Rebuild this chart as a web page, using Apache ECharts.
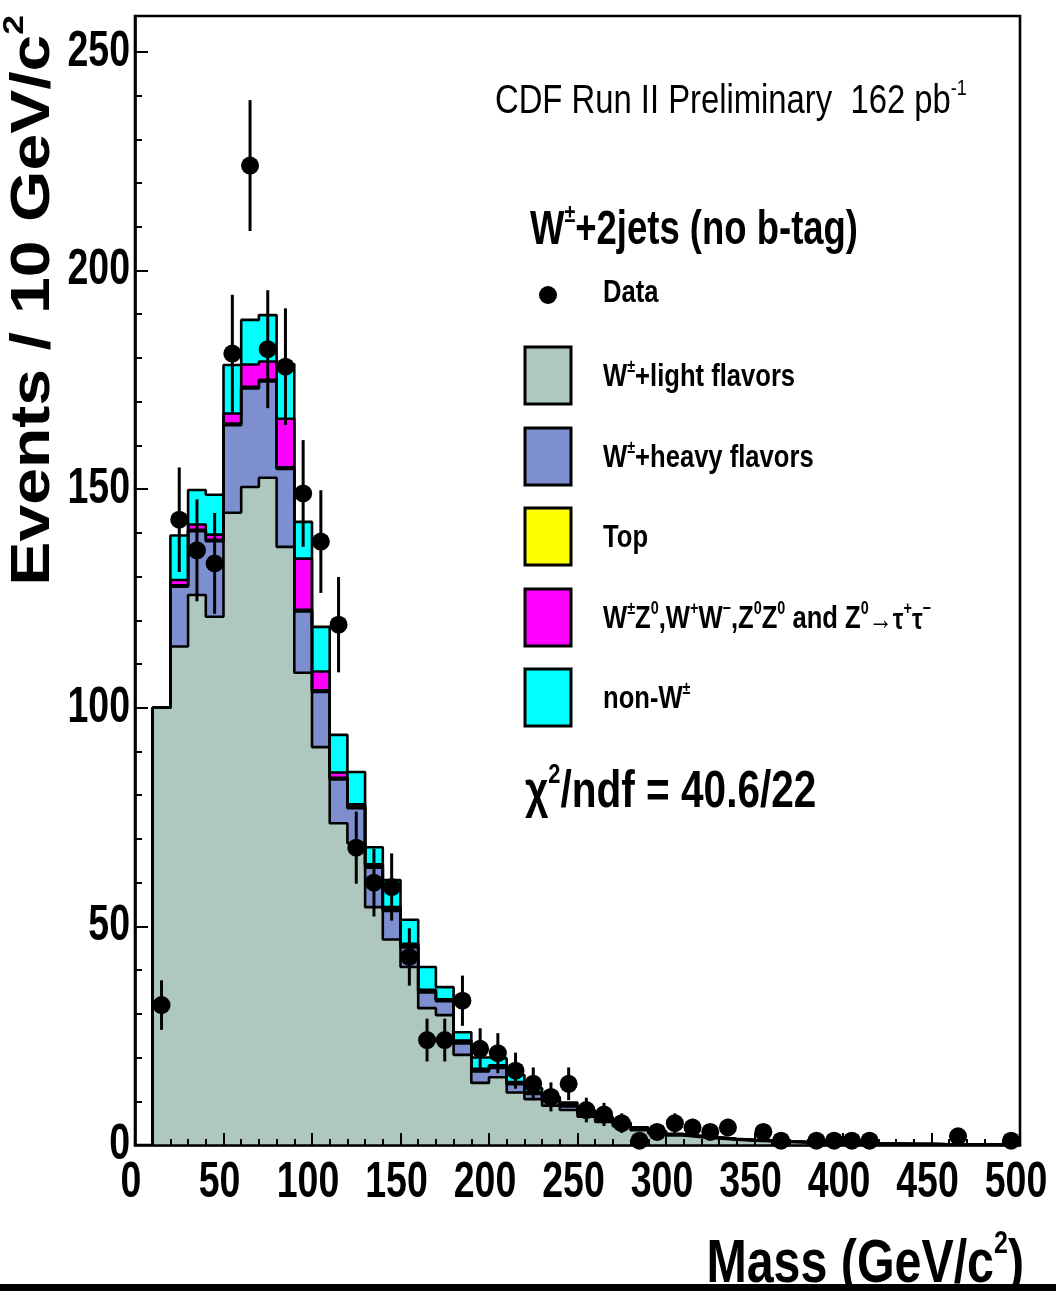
<!DOCTYPE html>
<html>
<head>
<meta charset="utf-8">
<script src="https://cdn.jsdelivr.net/npm/echarts@6/dist/echarts.min.js"></script>
<style>
  html, body { margin: 0; padding: 0; background: #ffffff; }
  #chart { width: 1056px; height: 1291px; }
</style>
</head>
<body>
<div id="chart"></div>
<script>
// Dijet mass, W + 2 jets (no b-tag): 10 GeV/c^2 bins, lower edges
const binLow = [10, 20, 30, 40, 50, 60, 70, 80, 90, 100,
  110, 120, 130, 140, 150, 160, 170, 180, 190, 200,
  210, 220, 230, 240, 250, 260, 270, 280, 290, 300,
  310, 320, 330, 340, 350, 360, 370, 380, 390, 400,
  410, 420, 430, 440, 450, 460, 470, 480, 490];
const binWidth = 10;

// Expected events per bin for each background process
const wLight = [100, 114, 125.8, 120.8, 144.6, 150.5, 152.6, 136.8, 108, 91,
  73.6, 69, 54.4, 47, 40.7, 31.3, 29.7, 20.6, 14.2, 15.5,
  12, 10.5, 9, 8, 6.5, 5.3, 4.3, 3.4, 2.7, 2.2,
  1.8, 1.5, 1.2, 1.0, 0.85, 0.7, 0.6, 0.5, 0.42, 0.36,
  0.3, 0.26, 0.22, 0.19, 0.16, 0.14, 0.12, 0.1, 0.08];
const wHeavy = [0, 13.7, 14.6, 17.3, 20, 22.5, 22, 17.8, 14, 12.6,
  10, 8, 9, 6.5, 4.5, 3.6, 3.2, 2.6, 2.6, 2.1,
  1.9, 1.2, 1.0, 0.8, 0.65, 0.5, 0.4, 0.3, 0.25, 0.2,
  0.17, 0.14, 0.12, 0.1, 0.08, 0.07, 0.06, 0.05, 0.04, 0.04,
  0.03, 0.03, 0.02, 0.02, 0.02, 0.02, 0.01, 0.01, 0.01];
const topQuark = [0, 0.3, 0.3, 0.3, 0.4, 0.4, 0.4, 0.4, 0.4, 0.4,
  0.4, 0.4, 0.5, 0.5, 0.5, 0.4, 0.3, 0.4, 0.4, 0.4,
  0.3, 0.3, 0.2, 0.2, 0.15, 0.15, 0.1, 0.1, 0.08, 0.06,
  0.05, 0.04, 0.03, 0.03, 0.02, 0.02, 0.02, 0.01, 0.01, 0.01,
  0, 0, 0, 0, 0, 0, 0, 0, 0];
const diboson = [0, 1.2, 1.2, 1.2, 2.3, 5.1, 4.2, 11.1, 11.7, 4.3,
  1.2, 0.5, 0.3, 0.4, 0.3, 0.2, 0.1, 0.3, 0.2, 0.2,
  0.2, 0.1, 0.1, 0.1, 0.1, 0.05, 0.05, 0.05, 0, 0,
  0, 0, 0, 0, 0, 0, 0, 0, 0, 0,
  0, 0, 0, 0, 0, 0, 0, 0, 0];
const nonW = [0, 10.2, 7.9, 9.1, 11.1, 10.2, 10.6, 12.5, 8.4, 10.2,
  8.6, 7.4, 3.9, 6.2, 5.5, 5.2, 2.8, 1.9, 2.6, 1.6,
  1.6, 0.9, 0.7, 0.6, 0.5, 0.4, 0.3, 0.2, 0.15, 0.1,
  0.08, 0.06, 0.05, 0.04, 0.03, 0.03, 0.02, 0.02, 0.01, 0.01,
  0, 0, 0, 0, 0, 0, 0, 0, 0];

// Observed events (null = empty bin)
const dataCounts = [32, 143, 136, 133, 181, 224, 182, 178, 149, 138,
  119, 68, 60, 59, 43, 24, 24, 33, 22, 21,
  17, 14, 11, 14, 8, 7, 5, 1, 3, 5,
  4, 3, 4, null, 3, 1, null, 1, 1, 1,
  1, null, null, null, null, 2, null, null, 1];

// Axis tick labels
const xTickLabels = [0, 50, 100, 150, 200, 250, 300, 350, 400, 450, 500];
const yTickLabels = [0, 50, 100, 150, 200, 250];

const processes = [
  { name: 'W+light flavors', values: wLight, color: '#afc8bf' },
  { name: 'W+heavy flavors', values: wHeavy, color: '#7d8fcf' },
  { name: 'Top', values: topQuark, color: '#ffff00' },
  { name: 'Diboson', values: diboson, color: '#ff00ff' },
  { name: 'non-W', values: nonW, color: '#00ffff' }
];

// Cumulative sums: each layer is drawn as the stacked total up to that process
const cumulative = [];
let running = binLow.map(() => 0);
processes.forEach(p => {
  running = running.map((v, i) => v + p.values[i]);
  cumulative.push(running.slice());
});

function stepOutline(sums) {
  const last = binLow.length - 1;
  const pts = [[binLow[0], 0]];
  binLow.forEach((x, i) => pts.push([x, sums[i]]));
  pts.push([binLow[last] + binWidth, sums[last]]);
  pts.push([binLow[last] + binWidth, 0]);
  return pts;
}

// Highest cumulative layer first, so each lower layer covers the one above it
const stackSeries = processes.map((p, k) => ({
  name: p.name,
  type: 'line',
  step: 'end',
  data: stepOutline(cumulative[k]),
  showSymbol: false,
  symbol: 'none',
  lineStyle: { color: '#000', width: 2.6 },
  areaStyle: { color: p.color, opacity: 1 },
  itemStyle: { color: p.color },
  xAxisIndex: 0,
  yAxisIndex: 0,
  z: 2,
  animation: false,
  silent: true
})).reverse();

const dataPoints = [];
const dataErrors = [];
dataCounts.forEach((n, i) => {
  if (n === null) return;
  const xc = binLow[i] + binWidth / 2;
  const e = Math.sqrt(n);
  dataPoints.push([xc, n]);
  dataErrors.push([xc, n - e, n + e]);
});

const FONT = "'Liberation Sans', Arial, sans-serif";

function label(x, y, text, size, weight, sx, rich) {
  return {
    type: 'text', x: x, y: y, scaleX: sx, z: 100,
    style: {
      text: text, x: 0, y: 0, align: 'left', verticalAlign: 'middle',
      fill: '#000', font: weight + ' ' + size + 'px ' + FONT,
      rich: rich || {}
    }
  };
}
function supRich(size, supSize, weight) {
  return {
    n: { fontSize: size, fontWeight: weight, fontFamily: FONT, color: '#000', lineHeight: size * 1.1, verticalAlign: 'bottom' },
    s: { fontSize: supSize, fontWeight: weight, fontFamily: FONT, color: '#000', lineHeight: supSize, verticalAlign: 'top' }
  };
}

const legendTop = [347, 428, 508, 589, 669];
const legendText = [
  '{n|W}{s|±}{n|+light flavors}',
  '{n|W}{s|±}{n|+heavy flavors}',
  '{n|Top}',
  '{n|W}{s|±}{n|Z}{s|0}{n|,W}{s|+}{n|W}{s|−}{n|,Z}{s|0}{n|Z}{s|0}{n| and Z}{s|0}{m|→τ}{s|+}{m|τ}{s|−}',
  '{n|non-W}{s|±}'
];
const legendRich = Object.assign(supRich(32, 18, 'bold'), {
  m: { fontSize: 30, fontWeight: 'bold', fontFamily: FONT, color: '#000', lineHeight: 35, verticalAlign: 'bottom' }
});

const graphics = [];
processes.forEach((p, k) => {
  graphics.push({
    type: 'rect', z: 100,
    shape: { x: 525, y: legendTop[k], width: 46, height: 57 },
    style: { fill: p.color, stroke: '#000', lineWidth: 3 }
  });
  graphics.push(label(603, legendTop[k] + 29, legendText[k], 32, 'bold', 0.8, legendRich));
});
graphics.push({ type: 'circle', z: 100, shape: { cx: 548, cy: 295, r: 9 }, style: { fill: '#000' } });
graphics.push(label(603, 292, '{n|Data}', 32, 'bold', 0.8, supRich(32, 18, 'bold')));
graphics.push(label(495, 100, '{n|CDF Run II Preliminary  162 pb}{s|-1}', 40, 'normal', 0.82, supRich(40, 22, 'normal')));
graphics.push(label(530, 228, '{n|W}{s|±}{n|+2jets (no b-tag)}', 48, 'bold', 0.76, supRich(48, 26, 'bold')));
graphics.push(label(525, 790, '{n|χ}{s|2}{n|/ndf = 40.6/22}', 52, 'bold', 0.78, supRich(52, 28, 'bold')));
// axis titles
graphics.push({
  type: 'text', x: 1024, y: 1262, scaleX: 0.78, z: 100,
  style: {
    text: '{n|Mass (GeV/c}{s|2}{n|)}', x: 0, y: 0, align: 'right', verticalAlign: 'middle',
    rich: supRich(62, 32, 'bold')
  }
});
graphics.push({
  type: 'text', x: 31, y: 15, rotation: Math.PI / 2, scaleX: 1.18, z: 100,
  style: {
    text: '{n|Events / 10 GeV/c}{s|2}', x: 0, y: 0, align: 'right', verticalAlign: 'middle',
    rich: supRich(56, 30, 'bold')
  }
});
graphics.push({ type: 'rect', z: 120, shape: { x: 0, y: 1284, width: 1056, height: 7 }, style: { fill: '#000' } });

const chart = echarts.init(document.getElementById('chart'), null, { renderer: 'canvas' });
chart.setOption({
  backgroundColor: '#ffffff',
  animation: false,
  grid: {
    left: 135, right: 36, top: 16, bottom: 146,
    show: true, borderColor: '#000', borderWidth: 2.6, backgroundColor: '#ffffff'
  },
  xAxis: [{
    type: 'value', min: 0, max: 500, interval: 50, z: 10,
    axisLine: { show: true, onZero: false, lineStyle: { color: '#000', width: 2.6 } },
    axisTick: { show: true, inside: true, length: 12, lineStyle: { color: '#000', width: 2 } },
    minorTick: { show: true, splitNumber: 5, length: 6, lineStyle: { color: '#000', width: 2 } },
    splitLine: { show: false },
    axisLabel: { show: false }
  }],
  yAxis: [{
    type: 'value', min: 0, max: 258.2, interval: 50, z: 10,
    axisLine: { show: true, onZero: false, lineStyle: { color: '#000', width: 2.6 } },
    axisTick: { show: true, inside: true, length: 13, lineStyle: { color: '#000', width: 2 } },
    splitLine: { show: false },
    axisLabel: { show: false }
  }, {
    type: 'value', min: 0, max: 258.2, interval: 10, z: 10, position: 'left',
    axisLine: { show: false },
    axisTick: { show: true, inside: true, length: 7, lineStyle: { color: '#000', width: 2 } },
    splitLine: { show: false },
    axisLabel: { show: false }
  }],
  series: stackSeries.concat([
    {
      name: 'Data errors', type: 'custom', xAxisIndex: 0, yAxisIndex: 0, z: 20,
      data: dataErrors, encode: { x: 0, y: [1, 2] }, silent: true,
      renderItem: (params, api) => {
        const a = api.coord([api.value(0), api.value(1)]);
        const b = api.coord([api.value(0), api.value(2)]);
        return { type: 'line', shape: { x1: a[0], y1: a[1], x2: b[0], y2: b[1] }, style: { stroke: '#000', lineWidth: 3 } };
      }
    },
    {
      name: 'Data', type: 'scatter', xAxisIndex: 0, yAxisIndex: 0, z: 21,
      data: dataPoints, symbol: 'circle', symbolSize: 18,
      itemStyle: { color: '#000', opacity: 1 }, silent: true
    }
  ])
});

// Condensed bold tick labels placed at the axes' own tick positions
const tickFont = 'bold 50px ' + FONT;
xTickLabels.forEach(v => {
  const p = chart.convertToPixel({ xAxisIndex: 0, yAxisIndex: 0 }, [v, 0]);
  graphics.push({
    type: 'text', x: p[0] - 4, y: p[1] + 38, scaleX: 0.75, z: 100,
    style: { text: String(v), x: 0, y: 0, align: 'center', verticalAlign: 'middle', fill: '#000', font: tickFont }
  });
});
yTickLabels.forEach(v => {
  const p = chart.convertToPixel({ xAxisIndex: 0, yAxisIndex: 0 }, [0, v]);
  graphics.push({
    type: 'text', x: p[0] - 5, y: p[1], scaleX: 0.75, z: 100,
    style: { text: String(v), x: 0, y: 0, align: 'right', verticalAlign: 'middle', fill: '#000', font: tickFont }
  });
});

chart.setOption({ graphic: graphics });
</script>
</body>
</html>
